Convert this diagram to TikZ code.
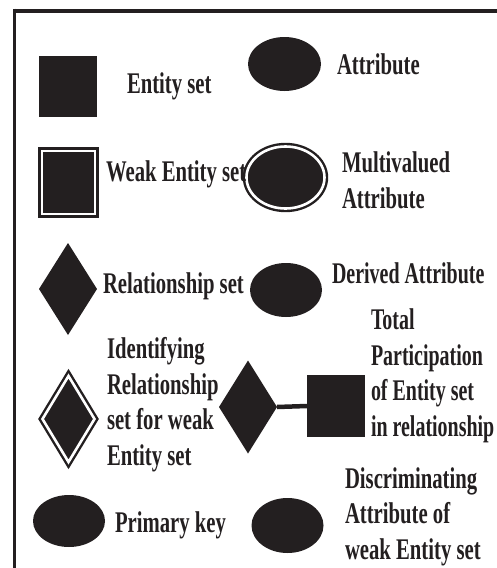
\documentclass[tikz,border=0pt]{standalone}
\usepackage{fontspec}
\newfontfamily\legendfont{Liberation Serif}[FakeStretch=0.69]
\newfontfamily\narrowlegendfont{Liberation Serif}[FakeStretch=0.665]
\usetikzlibrary{shapes.geometric}
\definecolor{ink}{HTML}{231F20}
\begin{document}
\begin{tikzpicture}[x=1pt,y=-1pt,
  solid/.style={fill=ink,draw=none,inner sep=0pt,outer sep=0pt},
  entbox/.style={solid,rectangle,minimum width=58pt,minimum height=61pt},
  attr/.style={solid,ellipse,minimum width=73pt,minimum height=54pt},
  rel/.style={solid,diamond,minimum width=58pt,minimum height=92pt},
  twoline/.style={draw=ink,line width=2.4pt,double=white,double distance=2.6pt},
  lbl/.style={inner sep=0pt,outer sep=0pt,anchor=base west,align=left,text=ink,
    font=\legendfont\bfseries\fontsize{30}{35.5}\selectfont},
  narrowlbl/.style={lbl,font=\narrowlegendfont\bfseries\fontsize{30}{35.5}\selectfont}]
\useasboundingbox (0,0) rectangle (497,568);
% frame
\draw[ink,line width=4pt] (13,10.5) -- (497,10.5);
\draw[ink,line width=3pt] (14.5,8.5) -- (14.5,568);

% left column symbols
\node[entbox] (ent) at (68,86.5) {};
\node[solid,rectangle,twoline,minimum width=53pt,minimum height=63pt] (weak) at (68.5,182.5) {};
\node[rel] (rel) at (68,289) {};
\node[solid,diamond,twoline,minimum width=52pt,minimum height=86pt] (idrel) at (68.5,419) {};
\node[attr,minimum width=72pt,minimum height=52pt] (pk) at (69,521) {};

% right column symbols
\node[attr] (att) at (284.5,64) {};
\node[solid,ellipse,twoline,minimum width=78pt,minimum height=62pt] (multi) at (285.5,177.5) {};
\node[attr,minimum width=72pt] (der) at (286,290) {};
\node[rel,minimum height=93pt] (tprel) at (248,407) {};
\node[entbox,minimum height=62pt] (tpent) at (336,406) {};
\draw[ink,line width=4.5pt] (tprel.east) -- (tpent.west);
\node[attr,minimum width=72pt,minimum height=55pt] (disc) at (287.5,525.5) {};

% labels (multi-line labels sit on the baseline of their last line)
\node[lbl] (tent) at (127,93) {Entity set};
\node[lbl] (tweak) at (106,181) {Weak Entity set};
\node[lbl] (trel) at (103,293) {Relationship set};
\node[lbl] (tidrel) at (107,465) {Identifying\\Relationship\\set for weak\\Entity set};
\node[lbl] (tpk) at (115,532) {Primary key};
\node[lbl] (tatt) at (337,74) {Attribute};
\node[lbl] (tmulti) at (342,208) {Multivalued\\Attribute};
\node[narrowlbl] (tder) at (332,283) {Derived Attribute};
\node[narrowlbl] (ttp) at (371,436) {Total\\Participation\\of Entity set\\in relationship};
\node[lbl] (tdisc) at (345,559) {Discriminating\\Attribute of\\weak Entity set};
\end{tikzpicture}
\end{document}
